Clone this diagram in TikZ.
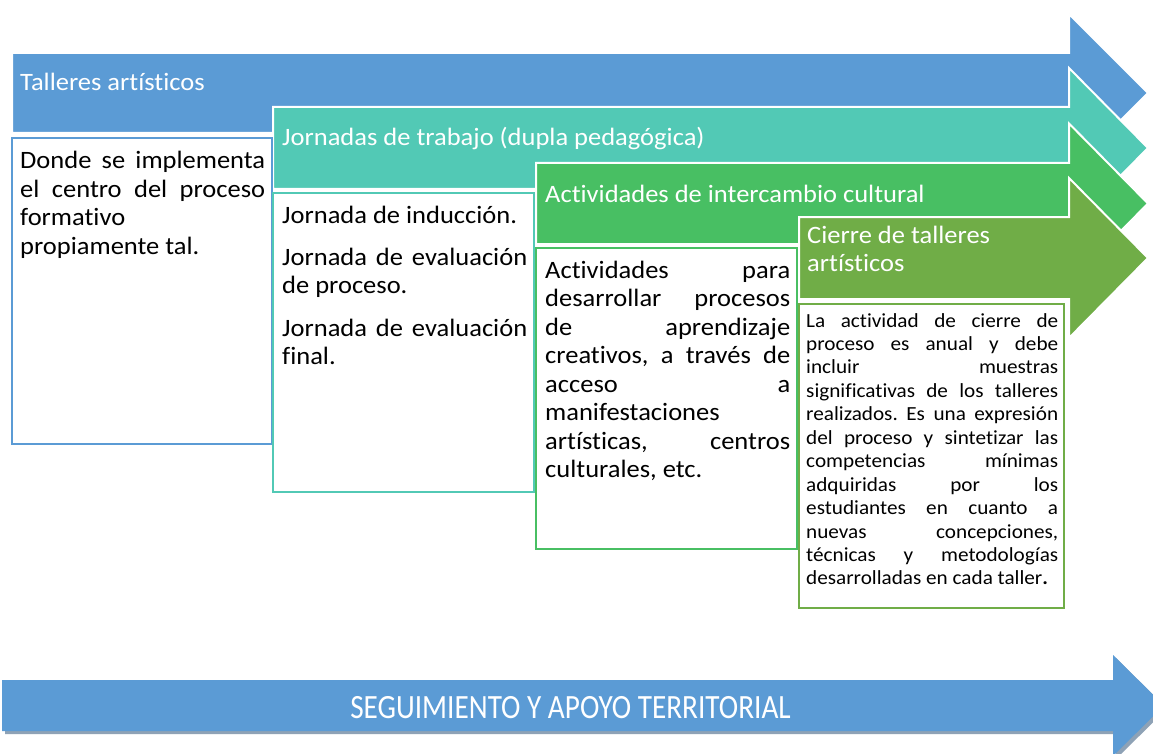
\documentclass[tikz,border=0pt]{standalone}
\usepackage{fontspec}
\setmainfont{Carlito}[FakeStretch=1.06, Ligatures=CommonOff]
\newfontfamily\condfont{Carlito}[FakeStretch=0.86, Ligatures=CommonOff]
\definecolor{cblue}{HTML}{5B9BD5}
\definecolor{cteal}{HTML}{52C9B5}
\definecolor{cgreen}{HTML}{48BF63}
\definecolor{colive}{HTML}{70AD47}
\definecolor{cshadow}{HTML}{8EA2B6}
\newcommand\jline[1]{\hbox to\hsize{#1}}
\newcommand\nline[1]{\hbox{#1}}
\frenchspacing
\tikzset{
  ribbon/.style={draw=white, line width=2pt, line join=miter},
  panel/.style={fill=white, line width=2pt},
  headtext/.style={anchor=base west, inner sep=0pt, text=white, font=\fontsize{25}{28}\selectfont},
  bodytext/.style={anchor=base west, inner sep=0pt, font=\fontsize{25}{28.5}\selectfont},
  smalltext/.style={anchor=base west, inner sep=0pt, font=\fontsize{20}{23.45}\selectfont},
  bandtext/.style={inner sep=0pt, text=white, font=\condfont\fontsize{34}{38}\selectfont}
}
\begin{document}
\begin{tikzpicture}[x=1pt,y=-1pt]
\useasboundingbox (0,0) rectangle (1153,754);
\clip (0,0) rectangle (1153,754);
\fill[white] (0,0) rectangle (1153,754);

% ribbons
\filldraw[ribbon, fill=cblue] (12,53) -- (1069,53) -- (1069,14) -- (1148,93) -- (1069,172) -- (1069,133) -- (12,133) -- cycle;
\filldraw[ribbon, fill=cteal] (273,107) -- (1069,107) -- (1069,68) -- (1148,148) -- (1069,228) -- (1069,189) -- (273,189) -- cycle;
\filldraw[ribbon, fill=cgreen] (536,163) -- (1069,163) -- (1069,123.5) -- (1148,203.5) -- (1069,283.5) -- (1069,244) -- (536,244) -- cycle;
\filldraw[ribbon, fill=colive] (799,217) -- (1069,217) -- (1069,178) -- (1148,258) -- (1069,338) -- (1069,299) -- (799,299) -- cycle;

% panels
\draw[panel, draw=cblue] (12,138) rectangle (272,444);
\draw[panel, draw=cteal] (273,193) rectangle (534,492);
\draw[panel, draw=cgreen] (536,248) rectangle (797,549);
\draw[panel, draw=colive, line width=2.5pt] (799,304) rectangle (1064,608);

% header texts
\node[headtext] (h1) at (20,91) {Talleres artísticos};
\node[headtext] (h2) at (282,146) {Jornadas de trabajo (dupla pedagógica)};
\node[headtext] (h3) at (545,202) {Actividades de intercambio cultural};
\node[headtext] (h4) at (807,243) {\vtop{\baselineskip=28pt \nline{Cierre de talleres}\nline{artísticos}}};

% body texts
\node[bodytext] (t1) at (20,169) {\vtop{\hsize=245pt \baselineskip=28.5pt
  \jline{Donde se implementa}
  \jline{el centro del proceso}
  \nline{formativo}
  \nline{propiamente tal.}}};
\node[bodytext] (t2) at (282,223) {\vtop{\hsize=245pt \baselineskip=28.5pt
  \nline{Jornada de inducción.}
  \vskip 13.5pt
  \jline{Jornada de evaluación}
  \nline{de proceso.}
  \vskip 14pt
  \jline{Jornada de evaluación}
  \nline{final.}}};
\node[bodytext] (t3) at (545,278) {\vtop{\hsize=245pt \baselineskip=28.5pt
  \jline{Actividades para}
  \jline{desarrollar procesos}
  \jline{de aprendizaje}
  \jline{creativos, a través de}
  \jline{acceso a}
  \nline{manifestaciones}
  \jline{artísticas, centros}
  \nline{culturales, etc.}}};
\node[smalltext] (t4) at (806,327) {\vtop{\hsize=252pt \baselineskip=23.45pt
  \jline{La actividad de cierre de}
  \jline{proceso es anual y debe}
  \jline{incluir muestras}
  \jline{significativas de los talleres}
  \jline{realizados. Es una expresión}
  \jline{del proceso y sintetizar las}
  \jline{competencias mínimas}
  \jline{adquiridas por los}
  \jline{estudiantes en cuanto a}
  \jline{nuevas concepciones,}
  \jline{técnicas y metodologías}
  \nline{desarrolladas en cada taller\textbf{.}}}};

% bottom band
\fill[cshadow] (5,683) -- (1116,683) -- (1116,658) -- (1167,708.5) -- (1116,759) -- (1116,734) -- (5,734) -- cycle;
\fill[cblue] (2,680) -- (1113,680) -- (1113,655) -- (1164,705.5) -- (1113,756) -- (1113,731) -- (2,731) -- cycle;
\node[bandtext] (band) at (570.5,708) {SEGUIMIENTO Y APOYO TERRITORIAL};
\end{tikzpicture}
\end{document}
